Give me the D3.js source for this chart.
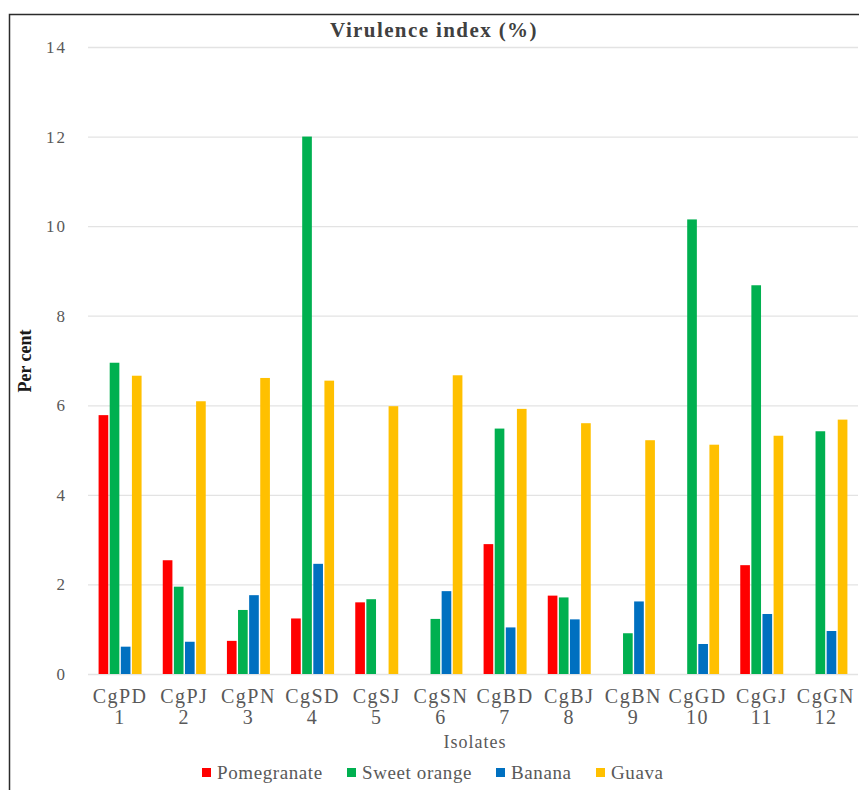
<!DOCTYPE html>
<html>
<head>
<meta charset="utf-8">
<script src="https://cdn.jsdelivr.net/npm/d3@7"></script>
<style>
  body { margin: 0; background: #fff; }
  svg { display: block; }
  .serif { font-family: 'Liberation Serif', 'DejaVu Serif', 'Times New Roman', serif; }
</style>
</head>
<body>
<svg id="chart"></svg>
<script>

const isolates = ['CgPD', 'CgPJ', 'CgPN', 'CgSD', 'CgSJ', 'CgSN', 'CgBD', 'CgBJ', 'CgBN', 'CgGD', 'CgGJ', 'CgGN'];
const isolateNums = ['1', '2', '3', '4', '5', '6', '7', '8', '9', '10', '11', '12'];
const seriesNames = ['Pomegranate', 'Sweet orange', 'Banana', 'Guava'];
const pomegranate = [5.78, 2.54, 0.74, 1.24, 1.60, 0, 2.90, 1.75, 0, 0, 2.43, 0];
const sweetOrange = [6.95, 1.95, 1.43, 12.0, 1.67, 1.23, 5.48, 1.71, 0.91, 10.15, 8.68, 5.42];
const banana = [0.61, 0.72, 1.76, 2.46, 0, 1.85, 1.04, 1.22, 1.62, 0.67, 1.34, 0.96];
const guava = [6.66, 6.09, 6.61, 6.55, 5.98, 6.67, 5.92, 5.60, 5.22, 5.12, 5.32, 5.68];
const yTicks = [0, 2, 4, 6, 8, 10, 12, 14];

class GroupedBarChart {

    constructor( config, data ){
        this.config = {
            parent: config.parent,
            width: config.width || 859,
            height: config.height || 790,
            margin: config.margin || {top:47, right:1, bottom:116, left:88},
            title: config.title || '',
            colors: config.colors
        }
        this.data = data;
        this.init();
    }

    init(){
        let self = this;

        self.svg = d3.select( self.config.parent )
            .attr('width', self.config.width)
            .attr('height', self.config.height);

        self.inner_width = self.config.width - self.config.margin.left - self.config.margin.right;
        self.inner_height = self.config.height - self.config.margin.top - self.config.margin.bottom;

        // frame (only top and left edges show in the crop)
        self.svg.append('path')
            .attr('d', `M9.5,${self.config.height} V14.5 H${self.config.width}`)
            .attr('fill', 'none')
            .attr('stroke', '#2b2b2b')
            .attr('stroke-width', 1.5);

        self.chart = self.svg.append('g')
            .attr('transform', `translate(${self.config.margin.left}, ${self.config.margin.top})`);

        self.x0 = d3.scaleBand()
            .domain( isolates )
            .range([0, self.inner_width])
            .paddingInner(0.33)
            .paddingOuter(0.165);

        self.x1 = d3.scaleBand()
            .domain( seriesNames )
            .range([0, self.x0.bandwidth()])
            .paddingInner(0.13);

        self.y = d3.scaleLinear()
            .domain([0, 14])
            .range([self.inner_height, 0]);

        self.color = d3.scaleOrdinal()
            .domain( seriesNames )
            .range( self.config.colors );

        self.svg.append('text')
            .attr('class', 'serif')
            .style('font-size', '21px')
            .style('font-weight', 'bold')
            .style('letter-spacing', '1.4px')
            .attr('fill', '#404040')
            .attr('text-anchor', 'middle')
            .attr('x', 434)
            .attr('y', 37)
            .text( self.config.title );
    }

    render(){
        let self = this;

        // grid + y labels
        const yAxis = d3.axisLeft( self.y )
            .tickValues( yTicks )
            .tickSize( -self.inner_width )
            .tickPadding( 21 );

        const yg = self.chart.append('g').call( yAxis );
        yg.attr('font-family', null);
        yg.select('.domain').remove();
        yg.selectAll('.tick line')
            .attr('stroke', '#e3e3e3')
            .attr('stroke-width', 1.3);
        yg.selectAll('.tick text')
            .attr('class', 'serif')
            .style('font-size', '17px')
            .style('letter-spacing', '2px')
            .attr('fill', '#595959');

        // bars
        const groups = self.chart.selectAll('.grp')
            .data( self.data )
            .enter()
            .append('g')
            .attr('transform', d => `translate(${self.x0(d.isolate)}, 0)`);

        groups.selectAll('rect')
            .data( d => seriesNames.map((s, i) => ({ key: s, value: d.values[i] })) )
            .enter()
            .append('rect')
            .attr('x', d => self.x1(d.key))
            .attr('y', d => self.y(d.value))
            .attr('width', self.x1.bandwidth())
            .attr('height', d => self.y(0) - self.y(d.value))
            .attr('fill', d => self.color(d.key));

        // x labels, two lines
        const xg = self.chart.append('g')
            .attr('transform', `translate(0, ${self.inner_height})`);
        const lab = xg.selectAll('text')
            .data( self.data )
            .enter()
            .append('text')
            .attr('class', 'serif')
            .attr('text-anchor', 'middle')
            .attr('fill', '#595959')
            .style('font-size', '20px')
            .style('letter-spacing', '1.5px')
            .attr('transform', d => `translate(${self.x0(d.isolate) + self.x0.bandwidth()/2}, 0)`);
        lab.append('tspan').attr('x', 0).attr('y', 29).text( d => d.isolate );
        lab.append('tspan').attr('x', 0).attr('y', 50).text( d => d.num );

        // axis titles
        self.svg.append('text')
            .attr('class', 'serif')
            .style('font-size', '18px')
            .style('font-weight', 'bold')
            .attr('fill', '#1a1a1a')
            .attr('text-anchor', 'middle')
            .attr('transform', 'translate(31, 361) rotate(-90)')
            .text('Per cent');

        self.svg.append('text')
            .attr('class', 'serif')
            .style('font-size', '18px')
            .style('letter-spacing', '1px')
            .attr('fill', '#595959')
            .attr('text-anchor', 'middle')
            .attr('x', 475)
            .attr('y', 748)
            .text('Isolates');

        // legend
        const legendX = [202, 347, 496, 596];
        const lg = self.svg.append('g');
        const items = lg.selectAll('g')
            .data( seriesNames )
            .enter()
            .append('g')
            .attr('transform', (d, i) => `translate(${legendX[i]}, 773)`);
        items.append('rect')
            .attr('x', 0).attr('y', -5)
            .attr('width', 9).attr('height', 9)
            .attr('fill', d => self.color(d));
        items.append('text')
            .attr('class', 'serif')
            .attr('x', 15)
            .attr('y', 6)
            .attr('fill', '#595959')
            .style('font-size', '19px')
            .style('letter-spacing', '0.6px')
            .text( d => d );
    }
}

const rows = isolates.map((iso, i) => ({
    isolate: iso,
    num: isolateNums[i],
    values: [pomegranate[i], sweetOrange[i], banana[i], guava[i]]
}));

const chart = new GroupedBarChart({
    parent: '#chart',
    title: 'Virulence index (%)',
    colors: ['#FF0000', '#00B050', '#0070C0', '#FFC000']
}, rows);
chart.render();

</script>
</body>
</html>
